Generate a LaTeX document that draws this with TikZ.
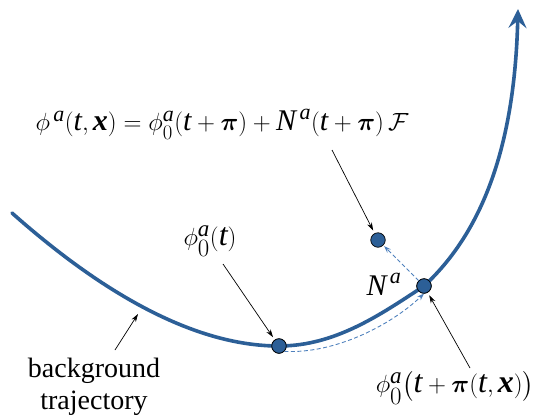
\documentclass[tikz,border=0pt]{standalone}
\usepackage{amsmath}
\usepackage{bm}
\usepackage{fontspec}
\setmainfont{Liberation Serif}
\usetikzlibrary{arrows.meta}
\newcommand\vi[1]{\textit{#1}}
\newcommand\vb[1]{\textbf{\textit{#1}}}
\DeclareMathSizes{30}{30}{22}{17}
\DeclareMathSizes{32}{32}{23}{18}
\definecolor{traj}{HTML}{2C5F97}
\definecolor{dashblue}{HTML}{4F81BD}
\tikzset{
  trajline/.style={draw=traj, line width=3.6pt, line cap=round},
  dotnode/.style={circle, fill=traj, draw=black, line width=0.7pt, minimum size=14.5pt, inner sep=0pt},
  ptr/.style={draw=black, line width=0.7pt, -{Stealth[length=8pt,width=5pt]}},
  dasharr/.style={draw=dashblue, line width=0.9pt, dash pattern=on 4pt off 2.5pt, -{Stealth[length=7pt,width=5pt]}},
  lbl/.style={inner sep=0pt, font=\fontsize{28}{32}\selectfont, text=black},
  mlbl/.style={inner sep=0pt, font=\fontsize{30}{34}\selectfont, text=black},
  blbl/.style={inner sep=0pt, font=\fontsize{32}{36}\selectfont, text=black}
}
\begin{document}
\begin{tikzpicture}[x=1pt,y=-1pt]
\useasboundingbox (0,0) rectangle (544,416);
\coordinate (start) at (12,213);
\coordinate (top) at (518,9);
\node[dotnode] (p0) at (279,346) {};
\node[dotnode] (pN) at (424,286) {};
\node[dotnode] (p1) at (378,240) {};
\draw[trajline, -{Stealth[length=19pt,width=18pt,inset=7pt]}] (start) .. controls (110,300) and (200,346) .. (p0.center)
  .. controls (335,346) and (380,315) .. (pN.center)
  .. controls (490,225) and (515,130) .. (top);
\node[dotnode] at (p0) {};
\node[dotnode] at (pN) {};
\draw[dasharr] (p0.south east) .. controls (334,354) and (390,326) .. (pN.south);
\draw[dasharr, shorten >=1pt] (pN) -- (p1);
\node[mlbl] (formula) at (222,124) {$\phi^{\,\vi{a}}(\vi{t},\vb{x}) = \phi_{0}^{\vi{a}}(\vi{t}+\bm{\pi}) + \vi{N}^{\,\vi{a}}(\vi{t}+\bm{\pi})\,\mathcal{F}$};
\node[blbl] (l0) at (210,241) {$\phi_{0}^{\vi{a}}(\vi{t})$};
\node[mlbl] (lN) at (384,284) {$\vi{N}^{\,\vi{a}}$};
\node[blbl] (lp) at (455,388) {$\phi_{0}^{\vi{a}}\bigl(\vi{t}+\bm{\pi}(\vi{t},\vb{x})\bigr)$};
\node[lbl, align=center] (bg) at (94,387) {background\\trajectory};
\coordinate (f0) at (332,150);
\coordinate (a0) at (223,264);
\coordinate (b0) at (115,350);
\coordinate (c0) at (470,368);
\coordinate (bt) at (138,314);
\draw[ptr, shorten >=3pt] (f0) -- (p1);
\draw[ptr, shorten >=3pt] (a0) -- (p0);
\draw[ptr] (b0) -- (bt);
\draw[ptr, shorten >=3pt] (c0) -- (pN);
\end{tikzpicture}
\end{document}
